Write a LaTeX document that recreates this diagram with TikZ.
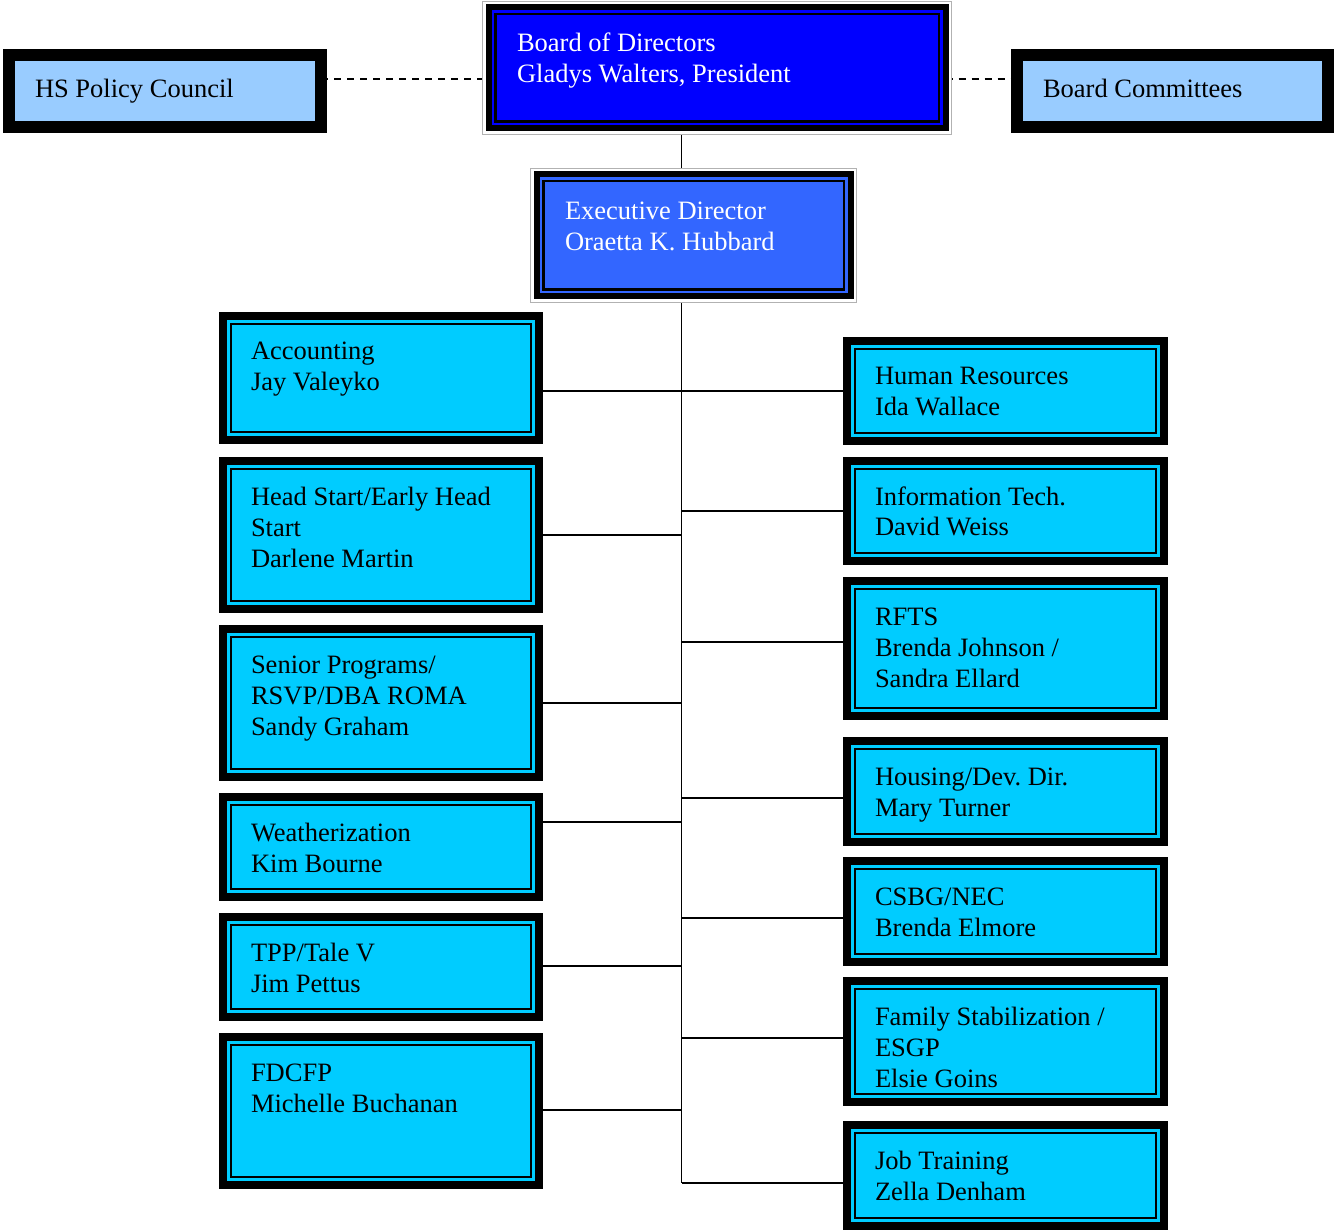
\documentclass[tikz,border=0pt]{standalone}
\usepackage{fontspec}
\setmainfont{Liberation Serif}
\usetikzlibrary{backgrounds}
\definecolor{boardblue}{HTML}{0000FF}
\definecolor{execblue}{HTML}{3366FF}
\definecolor{cyanfill}{HTML}{00CCFF}
\definecolor{lightfill}{HTML}{99CCFF}
\frenchspacing
\def\obbase{48}
% name, style, inset, text x offset, x1, y1, x2, y2, text
\newcommand\orgbox[9]{%
  \pgfmathsetmacro\obw{#7-#5-2*#3}%
  \pgfmathsetmacro\obh{#8-#6-2*#3}%
  \pgfmathsetmacro\obx{#4-#3}%
  \pgfmathsetmacro\obt{\obw-2*\obx}%
  \pgfmathsetmacro\obr{\obbase-#3}%
  \node[#2, anchor=north west, outer sep=0pt, inner xsep=\obx pt, inner ysep=0pt,
        minimum width=\obw pt, minimum height=\obh pt] (#1) at (#5+#3,#6+#3)
        {\parbox[c][\obh pt][t]{\obt pt}{\frenchspacing\rule{0pt}{\obr pt}#9}};%
}
\begin{document}
\begin{tikzpicture}[x=1pt,y=-1pt,
  every node/.style={font=\fontsize{26.5}{31}\selectfont},
  lightbox/.style={draw=black, line width=12pt, fill=lightfill, text=black},
  cyanbox/.style={draw=black, line width=8pt, fill=cyanfill, text=black,
    path picture={\draw[black,line width=2pt]
      ([shift={(8pt,-8pt)}]path picture bounding box.north west) rectangle
      ([shift={(-8pt,8pt)}]path picture bounding box.south east);}},
  topbox/.style={preaction={draw=gray!60, line width=13pt},
    preaction={draw=white, line width=11pt},
    draw=black, line width=6pt, text=white,
    path picture={\draw[black,line width=2.5pt]
      ([shift={(6.75pt,-6.75pt)}]path picture bounding box.north west) rectangle
      ([shift={(-6.75pt,6.75pt)}]path picture bounding box.south east);}},
  connector/.style={draw=black, line width=1.9pt},
  dashedlink/.style={draw=black, line width=1.8pt, dash pattern=on 7pt off 6pt}]
\useasboundingbox (0,0) rectangle (1334,1230);

\def\obbase{50.5}
\orgbox{board}{topbox, fill=boardblue}{6.5}{35}{482}{1}{952}{135}{Board of Directors\\Gladys Walters, President}
\def\obbase{52}
\orgbox{exec}{topbox, fill=execblue}{6.5}{35}{530}{168}{857}{303}{Executive Director\\Oraetta K. Hubbard}
\def\obbase{49}
\orgbox{hs}{lightbox}{6}{32}{3}{49}{327}{133}{HS Policy Council}
\orgbox{bc}{lightbox}{6}{32}{1011}{49}{1334}{133}{Board Committees}

\def\obbase{48}
\orgbox{acc}{cyanbox}{4}{32}{219}{312}{543}{444}{Accounting\\Jay Valeyko}
\orgbox{head}{cyanbox}{4}{32}{219}{457}{543}{613}{Head Start/Early Head\\Start\\Darlene Martin}
\orgbox{senior}{cyanbox}{4}{32}{219}{625}{543}{781}{Senior Programs/\\RSVP/DBA ROMA\\Sandy Graham}
\orgbox{weather}{cyanbox}{4}{32}{219}{793}{543}{901}{Weatherization\\Kim Bourne}
\orgbox{tpp}{cyanbox}{4}{32}{219}{913}{543}{1021}{TPP/Tale V\\Jim Pettus}
\orgbox{fdcfp}{cyanbox}{4}{32}{219}{1033}{543}{1189}{FDCFP\\Michelle Buchanan}

\orgbox{hr}{cyanbox}{4}{32}{843}{337}{1168}{445}{Human Resources\\Ida Wallace}
\orgbox{it}{cyanbox}{4}{32}{843}{457}{1168}{565}{Information Tech.\\David Weiss}
\orgbox{rfts}{cyanbox}{4}{32}{843}{577}{1168}{720}{RFTS\\Brenda Johnson /\\Sandra Ellard}
\orgbox{housing}{cyanbox}{4}{32}{843}{737}{1168}{846}{Housing/Dev. Dir.\\Mary Turner}
\orgbox{csbg}{cyanbox}{4}{32}{843}{857}{1168}{966}{CSBG/NEC\\Brenda Elmore}
\orgbox{family}{cyanbox}{4}{32}{843}{977}{1168}{1106}{Family Stabilization /\\ESGP\\Elsie Goins}
\orgbox{job}{cyanbox}{4}{32}{843}{1121}{1168}{1230}{Job Training\\Zella Denham}

\coordinate (tbot) at (681.5,1183);
\begin{scope}[on background layer]
  \draw[dashedlink] (hs.east |- 0,79) -- (board.west |- 0,79);
  \draw[dashedlink] (board.east |- 0,79) -- (bc.west |- 0,79);
  \draw[connector] (board.south -| tbot) -- (exec.north -| tbot);
  \draw[connector] (exec.south -| tbot) -- (tbot);
  \draw[connector] (acc.east |- 0,391) -- (tbot |- 0,391);
  \draw[connector] (head.east |- 0,535) -- (tbot |- 0,535);
  \draw[connector] (senior.east |- 0,703) -- (tbot |- 0,703);
  \draw[connector] (weather.east |- 0,822) -- (tbot |- 0,822);
  \draw[connector] (tpp.east |- 0,966) -- (tbot |- 0,966);
  \draw[connector] (fdcfp.east |- 0,1110) -- (tbot |- 0,1110);
  \draw[connector] (tbot |- 0,391) -- (hr.west |- 0,391);
  \draw[connector] (tbot |- 0,511) -- (it.west |- 0,511);
  \draw[connector] (tbot |- 0,642) -- (rfts.west |- 0,642);
  \draw[connector] (tbot |- 0,798) -- (housing.west |- 0,798);
  \draw[connector] (tbot |- 0,918) -- (csbg.west |- 0,918);
  \draw[connector] (tbot |- 0,1038) -- (family.west |- 0,1038);
  \draw[connector] (tbot) -- (job.west |- tbot);
\end{scope}
\end{tikzpicture}
\end{document}
